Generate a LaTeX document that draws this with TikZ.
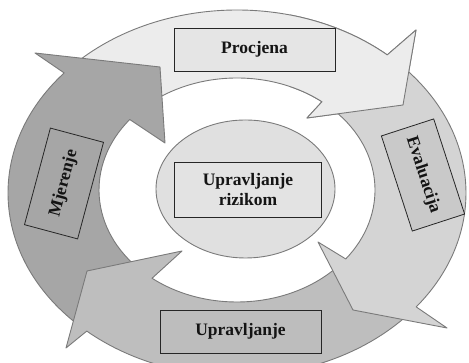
\documentclass[tikz,border=0pt]{standalone}
\usepackage{fontspec}
\setmainfont{Liberation Serif}
\usepackage{tikz}
\usetikzlibrary{calc}

\definecolor{procjenafill}{HTML}{ECECEC}
\definecolor{evalfill}{HTML}{D4D4D4}
\definecolor{upravfill}{HTML}{BEBEBE}
\definecolor{mjerfill}{HTML}{A6A6A6}
\definecolor{edgegray}{HTML}{7A7A7A}
\definecolor{boxline}{HTML}{262626}

\begin{document}
\begin{tikzpicture}[x=1pt,y=1pt,
  ring/.style={draw=edgegray,line width=0.9pt,line join=round},
  labelbox/.style={draw=boxline,line width=0.8pt,inner sep=0pt,
    minimum width=161pt,minimum height=43pt,align=center,text=black!92,
    font=\fontsize{17.5}{20}\selectfont\bfseries}]
  \useasboundingbox (0,0) rectangle (469,363);
  \coordinate (Co) at (237,170);
  \coordinate (Ci) at (237,173);
  % Procjena arrow: across the top
  \draw[ring,fill=procjenafill] ($(Co)+(136:229 and 183)$)
    arc[start angle=136,end angle=49,x radius=229,y radius=183]
    -- (416,333) -- (403,258) -- (307,245) -- ($(Ci)+(52:138 and 112)$)
    arc[start angle=52,end angle=136,x radius=138,y radius=112] -- cycle;
  % Mjerenje arrow: up the left side
  \draw[ring,fill=mjerfill] ($(Co)+(226:229 and 183)$)
    arc[start angle=226,end angle=139,x radius=229,y radius=183]
    -- (35,310) -- (160,296) -- (165,220) -- ($(Ci)+(141:138 and 112)$)
    arc[start angle=141,end angle=226,x radius=138,y radius=112] -- cycle;
  % Upravljanje arrow: along the bottom
  \draw[ring,fill=upravfill] ($(Co)+(317:229 and 183)$)
    arc[start angle=317,end angle=229,x radius=229,y radius=183]
    -- (66,15) -- (87,92) -- (182,112) -- ($(Ci)+(232:138 and 112)$)
    arc[start angle=232,end angle=317,x radius=138,y radius=112] -- cycle;
  % Evaluacija arrow: down the right side
  \draw[ring,fill=evalfill] ($(Co)+(45:229 and 183)$)
    arc[start angle=45,end angle=-38.5,x radius=229,y radius=183]
    -- (447,35) -- (353,53) -- (318,121) -- ($(Ci)+(-38:138 and 112)$)
    arc[start angle=-38,end angle=45,x radius=138,y radius=112] -- cycle;
  % head of Procjena again, on top of the Evaluacija tail
  \begin{scope}
    \clip (290,232) rectangle (469,363);
    \draw[ring,fill=procjenafill] ($(Co)+(136:229 and 183)$)
      arc[start angle=136,end angle=49,x radius=229,y radius=183]
      -- (416,333) -- (403,258) -- (307,245) -- ($(Ci)+(52:138 and 112)$)
      arc[start angle=52,end angle=136,x radius=138,y radius=112] -- cycle;
  \end{scope}
  % centre
  \draw[ring,fill=procjenafill!95!black] (245.5,174) ellipse (89.5 and 69);
  \node[labelbox,fill=black!11,minimum width=147pt,minimum height=55pt]
    (rizik) at (248,173.5) {Upravljanje\\rizikom};
  % labels on the arrows
  \node[labelbox,fill=black!10] (procjena) at (254.5,313.5) {Procjena};
  \node[labelbox,fill=black!21,minimum width=100pt,minimum height=55pt,rotate=-72]
    (evaluacija) at (423,188) {Evaluacija};
  \node[labelbox,fill=black!26] (upravljanje) at (240.5,31.5) {Upravljanje};
  \node[labelbox,fill=mjerfill,minimum width=100pt,minimum height=55pt,rotate=75]
    (mjerenje) at (64,179.5) {Mjerenje};
\end{tikzpicture}
\end{document}
